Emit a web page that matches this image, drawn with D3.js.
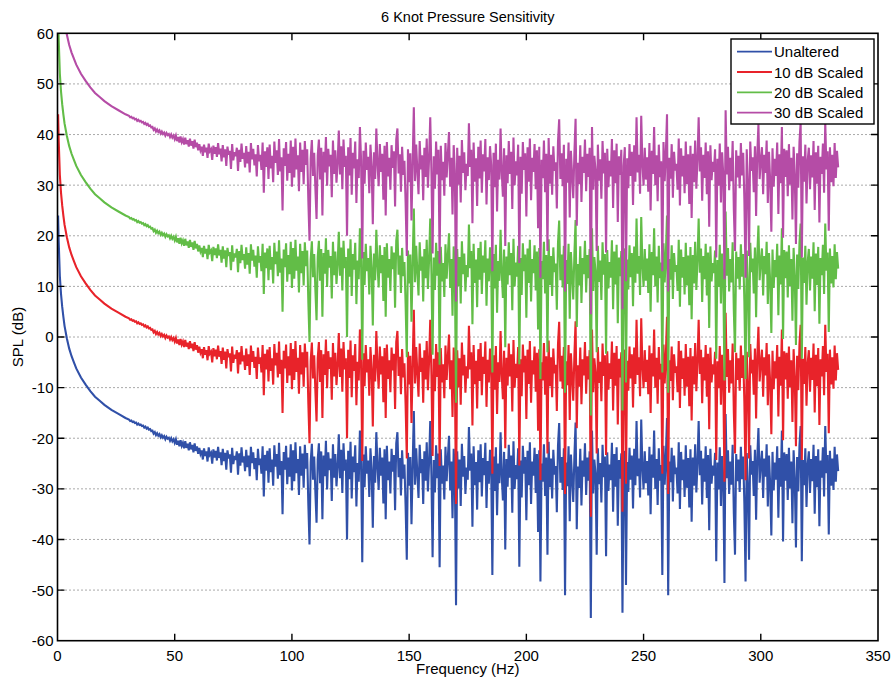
<!DOCTYPE html>
<html>
<head>
<meta charset="utf-8">
<script src="https://cdn.jsdelivr.net/npm/d3@7"></script>
<style>
  html, body { margin: 0; padding: 0; background: #fff; }
  svg { display: block; font-family: "Liberation Sans", Arial, sans-serif; }
</style>
</head>
<body>
<div id="viz"></div>
<script>
// Legend entries, vertical offset of each trace (dB) and colours
const seriesNames = ["Unaltered", "10 dB Scaled", "20 dB Scaled", "30 dB Scaled"];
const seriesOffsetDb = [0, 20, 40, 60];
const seriesColors = ["#3050a8", "#e8232a", "#62bd47", "#b54ca6"];

const xTicks = [0, 50, 100, 150, 200, 250, 300, 350];
const yTicks = [-60, -50, -40, -30, -20, -10, 0, 10, 20, 30, 40, 50, 60];

// Unaltered spectrum, low-frequency roll-off (Hz / dB)
const smoothHz = [0.25, 0.5, 0.75, 1, 1.5, 2, 2.5, 3, 4, 5, 6, 7, 8, 10, 12, 14, 16, 18, 20, 23, 26, 29];
const smoothDb = [24, 19, 15.5, 12, 8.5, 6, 4, 2.2, -0.3, -2.3, -3.8, -5, -6.2, -8, -9.4, -10.7, -11.8, -12.6,
  -13.4, -14.4, -15.2, -16.0];

// Unaltered spectrum, 30.5 Hz onward in 0.5 Hz bins (dB), one row per 10 Hz
const noiseStartHz = 30.5;
const noiseStepHz = 0.5;
const noiseDb = [
  -16.3,-16.6,-16.5,-16.8,-16.7,-17.0,-16.9,-17.3,-17.1,-17.4,-17.3,-17.6,-17.5,-17.9,-17.7,-18.1,-17.9,-18.3,-18.2,-18.6,
  -18.5,-19.1,-18.8,-19.4,-19.0,-19.5,-19.2,-19.8,-19.4,-19.9,-19.6,-20.2,-19.7,-20.1,-19.9,-20.5,-20.0,-20.6,-20.2,-20.9,
  -20.2,-21.3,-20.5,-21.6,-20.4,-21.5,-20.9,-22.0,-20.6,-21.9,-21.1,-22.4,-20.8,-22.2,-21.3,-22.8,-21.0,-22.5,-21.6,-23.1,
  -21.9,-23.1,-22.4,-24.2,-22.0,-23.5,-22.6,-24.6,-21.8,-23.3,-22.9,-25.0,-22.2,-23.8,-22.5,-24.4,-21.7,-23.9,-22.8,-25.3,
  -22.1,-24.5,-22.9,-26.2,-22.4,-24.0,-23.2,-26.8,-21.9,-25.1,-23.5,-24.3,-22.6,-27.2,-23.0,-25.4,-21.8,-24.8,-23.6,-26.5,
  -22.3,-25.7,-23.4,-27.5,-21.7,-24.9,-22.8,-26.1,-23.9,-28.3,-22.1,-25.3,-24.0,-27.0,-21.6,-31.5,-23.3,-26.4,-22.5,-28.8,
  -22.0,-26.7,-24.2,-29.4,-21.4,-25.6,-23.1,-28.0,-20.9,-27.3,-24.5,-35.0,-22.7,-26.2,-21.5,-29.1,-23.8,-27.6,-21.2,-30.3,
  -22.4,-28.5,-20.8,-26.9,-24.1,-31.2,-21.6,-27.4,-23.0,-29.8,-21.3,-26.0,-22.9,-33.1,-41.0,-24.7,-21.1,-28.2,-23.6,-30.6,
  -36.7,-24.2,-21.0,-28.9,-22.6,-36.0,-23.4,-27.5,-20.5,-30.1,-22.8,-26.3,-24.0,-32.4,-21.2,-27.8,-23.1,-29.5,-25.6,-19.2,
  -27.9,-22.3,-30.8,-21.0,-26.4,-24.2,-40.0,-22.5,-28.1,-20.7,-31.9,-23.6,-26.7,-21.4,-33.5,-24.9,-28.6,-18.5,-25.1,-44.5,
  -23.2,-29.7,-21.6,-27.0,-24.4,-31.6,-22.0,-26.3,-37.7,-23.5,-28.8,-18.8,-25.7,-30.2,-21.9,-27.4,-23.8,-32.9,-22.2,-36.0,
  -21.5,-28.3,-24.6,-30.9,-22.1,-26.6,-23.3,-34.2,-21.0,-18.8,-27.7,-23.9,-31.3,-22.4,-28.0,-25.2,-33.6,-44.0,-22.9,-29.4,
  -23.7,-37.0,-25.5,-14.6,-29.2,-22.0,-27.1,-31.8,-21.3,-26.9,-24.1,-33.0,-22.6,-28.4,-20.8,-30.5,-24.8,-16.6,-27.3,-43.5,
  -24.3,-30.7,-21.4,-27.9,-23.0,-45.5,-22.2,-29.0,-25.4,-32.1,-21.7,-28.5,-23.9,-19.5,-30.3,-24.6,-35.8,-22.1,-27.2,-53.0,
  -22.6,-29.9,-24.2,-33.4,-21.1,-27.6,-23.5,-31.0,-25.8,-28.2,-17.8,-26.4,-23.0,-37.5,-21.6,-29.3,-24.7,-34.1,-22.4,-28.7,
  -21.2,-31.5,-23.9,-27.3,-20.9,-33.8,-24.5,-29.0,-22.3,-26.1,-47.0,-23.6,-30.4,-21.8,-35.2,-25.0,-28.9,-18.8,-27.5,-32.3,
  -22.7,-42.0,-24.1,-29.6,-21.3,-27.8,-23.4,-34.7,-20.6,-30.0,-25.3,-28.1,-22.0,-45.4,-24.4,-31.7,-21.5,-27.0,-23.7,-36.2,
  -22.5,-29.3,-20.8,-33.0,-24.6,-27.4,-21.9,-30.8,-23.1,-38.5,-22.4,-48.3,-25.0,-28.6,-21.2,-31.4,-23.8,-43.0,-20.7,-29.7,
  -24.0,-31.9,-22.3,-27.2,-25.5,-34.6,-21.4,-17.0,-28.8,-23.7,-30.2,-22.0,-51.0,-24.8,-29.5,-21.6,-36.4,-23.2,-27.9,-32.6,
  -23.5,-16.9,-38.0,-25.6,-29.8,-22.1,-33.3,-24.4,-27.6,-21.0,-31.2,-23.8,-28.4,-22.6,-55.5,-18.5,-30.9,-24.2,-27.0,-43.0,
  -22.0,-29.1,-24.9,-32.7,-21.3,-27.7,-23.6,-43.3,-22.8,-30.4,-25.2,-28.3,-20.9,-34.5,-23.1,-29.6,-21.8,-37.3,-24.3,-28.0,
  -23.0,-54.5,-26.2,-22.5,-49.0,-24.7,-30.6,-21.9,-28.2,-23.4,-33.9,-22.1,-29.3,-16.6,-27.5,-24.0,-31.7,-16.3,-25.8,-30.1,
  -22.6,-28.9,-24.5,-31.3,-21.7,-35.0,-23.2,-27.8,-18.5,-30.0,-24.1,-33.2,-22.0,-28.4,-25.3,-47.0,-21.5,-29.2,-23.7,-16.0,
  -51.0,-24.6,-28.7,-21.9,-32.5,-23.4,-27.1,-25.8,-30.9,-20.8,-34.0,-22.7,-28.3,-24.2,-31.6,-21.4,-29.8,-23.9,-33.7,-22.2,
  -36.5,-23.8,-29.4,-21.2,-30.7,-24.9,-16.6,-27.3,-22.5,-33.1,-24.0,-28.6,-21.6,-31.8,-23.3,-38.2,-22.1,-29.0,-25.4,-27.4,
  -22.9,-44.3,-24.8,-30.1,-21.8,-33.4,-23.5,-28.0,-48.6,-15.2,-27.9,-22.4,-31.0,-24.6,-29.2,-21.3,-34.8,-43.0,-23.1,-28.5,
  -24.2,-30.6,-21.7,-28.1,-23.6,-33.0,-48.3,-22.9,-29.7,-44.0,-21.4,-27.2,-24.5,-31.4,-22.3,-36.1,-23.8,-18.0,-28.8,-25.1,
  -22.5,-31.8,-24.0,-27.6,-21.2,-33.5,-23.4,-29.1,-39.2,-22.7,-30.3,-24.8,-28.2,-21.6,-35.7,-23.9,-29.6,-18.5,-40.4,-22.8,
  -28.4,-23.1,-32.2,-21.9,-29.9,-24.6,-36.8,-22.4,-28.0,-41.6,-23.7,-30.5,-21.5,-17.6,-44.3,-24.3,-29.3,-22.0,-33.6,-25.2,
  -22.6,-30.8,-24.1,-28.5,-21.3,-34.9,-23.5,-29.7,-22.2,-37.4,-24.4,-27.8,-21.8,-31.5,-17.6,-26.9,-23.3,-39.0,-22.5,-29.4,
  -24.0,-30.2,-21.7,-28.6,-23.2,-26.5
];

const W = 895, H = 680;
const margin = { left: 57.5, right: 17, top: 33.3, bottom: 39.3 };

function buildBase() {
  const pts = smoothHz.map((f, i) => ({ f, db: smoothDb[i] }));
  noiseDb.forEach((db, i) => pts.push({ f: noiseStartHz + i * noiseStepHz, db }));
  return pts;
}

function draw() {
  const base = buildBase();
  const pw = W - margin.left - margin.right;
  const ph = H - margin.top - margin.bottom;

  const x = d3.scaleLinear().domain([0, 350]).range([0, pw]);
  const y = d3.scaleLinear().domain([-60, 60]).range([ph, 0]);

  const svg = d3.select('#viz').append('svg')
    .attr('width', W)
    .attr('height', H);

  svg.append('defs').append('clipPath').attr('id', 'plotClip')
    .append('rect').attr('width', pw).attr('height', ph);

  const g = svg.append('g').attr('transform', `translate(${margin.left},${margin.top})`);

  // horizontal dotted grid only
  g.append('g')
    .selectAll('line')
    .data(yTicks.slice(1, -1))
    .join('line')
    .attr('x1', 0).attr('x2', pw)
    .attr('y1', d => y(d)).attr('y2', d => y(d))
    .attr('stroke', '#555')
    .attr('stroke-width', 1)
    .attr('stroke-dasharray', '1,3');

  const line = d3.line()
    .x(d => x(d.f))
    .y(d => y(d.db));

  const traces = g.append('g').attr('clip-path', 'url(#plotClip)');
  seriesOffsetDb.forEach((off, i) => {
    traces.append('path')
      .datum(base.map(p => ({ f: p.f, db: p.db + off })))
      .attr('fill', 'none')
      .attr('stroke', seriesColors[i])
      .attr('stroke-width', 2.1)
      .attr('stroke-linejoin', 'miter')
      .attr('d', line);
  });

  // axes box with inward ticks on all four sides
  const tickLen = 7;
  const axes = g.append('g');
  axes.append('rect')
    .attr('width', pw).attr('height', ph)
    .attr('fill', 'none').attr('stroke', '#000').attr('stroke-width', 1.6);

  axes.append('g').selectAll('path').data(xTicks.slice(1, -1)).join('path')
    .attr('d', d => `M${x(d)},${ph}v${-tickLen}M${x(d)},0v${tickLen}`)
    .attr('stroke', '#000').attr('stroke-width', 1.4);
  axes.append('g').selectAll('path').data(yTicks.slice(1, -1)).join('path')
    .attr('d', d => `M0,${y(d)}h${tickLen}M${pw},${y(d)}h${-tickLen}`)
    .attr('stroke', '#000').attr('stroke-width', 1.4);

  axes.append('g').selectAll('text').data(xTicks).join('text')
    .attr('x', d => x(d)).attr('y', ph + 20)
    .attr('text-anchor', 'middle')
    .style('font-size', '15px')
    .text(d => d);
  axes.append('g').selectAll('text').data(yTicks).join('text')
    .attr('x', -4).attr('y', d => y(d) + 5.5)
    .attr('text-anchor', 'end')
    .style('font-size', '15px')
    .text(d => d);

  svg.append('text')
    .attr('x', margin.left + pw / 2).attr('y', 22)
    .attr('text-anchor', 'middle')
    .style('font-size', '14.5px')
    .text('6 Knot Pressure Sensitivity');
  svg.append('text')
    .attr('x', margin.left + pw / 2).attr('y', 674)
    .attr('text-anchor', 'middle')
    .style('font-size', '15px')
    .text('Frequency (Hz)');
  svg.append('text')
    .attr('transform', `translate(23,${margin.top + ph / 2}) rotate(-90)`)
    .attr('text-anchor', 'middle')
    .style('font-size', '15px')
    .text('SPL (dB)');

  // legend
  const lg = svg.append('g').attr('transform', 'translate(731,39)');
  lg.append('rect')
    .attr('width', 143).attr('height', 85)
    .attr('fill', '#fff').attr('stroke', '#000').attr('stroke-width', 1.4);
  const row = lg.selectAll('g.row').data(seriesNames).join('g')
    .attr('class', 'row')
    .attr('transform', (d, i) => `translate(0,${12.7 + i * 20.3})`);
  row.append('line')
    .attr('x1', 6).attr('x2', 41)
    .attr('stroke', (d, i) => seriesColors[i])
    .attr('stroke-width', 1.8);
  row.append('text')
    .attr('x', 43).attr('y', 5.5)
    .style('font-size', '15px')
    .text(d => d);
}

draw();
</script>
</body>
</html>
